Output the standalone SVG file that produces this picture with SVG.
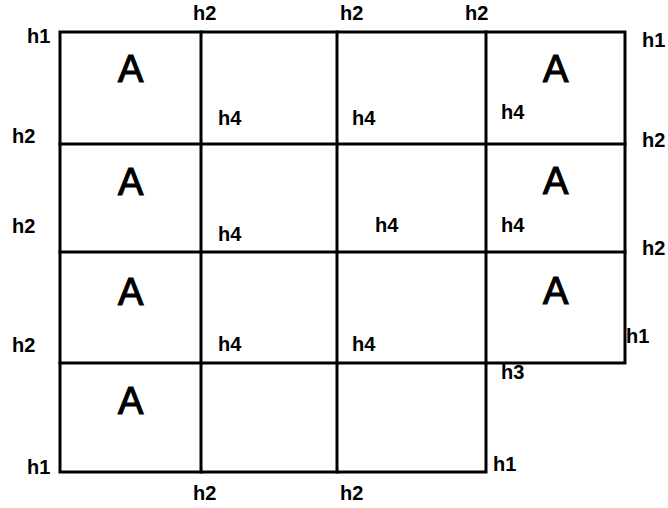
<svg xmlns="http://www.w3.org/2000/svg" width="668" height="508" viewBox="0 0 668 508">
<style>
.g{fill:none;stroke:#000;stroke-width:3;stroke-linecap:square}
.l{font-family:"Liberation Sans",Arial,sans-serif;font-weight:bold;font-size:20px;fill:#000}
.a{font-family:"Liberation Sans",Arial,sans-serif;font-size:38px;fill:#000;stroke:#000;stroke-width:1.2}
</style>
<rect width="668" height="508" fill="#fff"/>
<g id="grid">
<path class="g" d="M60,32H625V363H486V472H60Z"/>
<path class="g" d="M60,144H625M60,252H625M60,363H486M201,32V472M337,32V472M486,32V363"/>
</g>
<g id="cell-labels">
<text class="a" x="118" y="82">A</text>
<text class="a" x="118" y="195">A</text>
<text class="a" x="118" y="305">A</text>
<text class="a" x="118" y="414">A</text>
<text class="a" x="543" y="82">A</text>
<text class="a" x="543" y="194">A</text>
<text class="a" x="543" y="304">A</text>
<text class="l" x="218" y="125">h4</text>
<text class="l" x="352" y="125">h4</text>
<text class="l" x="501" y="119">h4</text>
<text class="l" x="218" y="241">h4</text>
<text class="l" x="375" y="232">h4</text>
<text class="l" x="501" y="232">h4</text>
<text class="l" x="218" y="351">h4</text>
<text class="l" x="352" y="351">h4</text>
</g>
<g id="edge-labels">
<text class="l" x="193" y="20">h2</text>
<text class="l" x="340" y="20">h2</text>
<text class="l" x="465" y="20">h2</text>
<text class="l" x="27" y="43">h1</text>
<text class="l" x="12" y="143">h2</text>
<text class="l" x="12" y="233">h2</text>
<text class="l" x="12" y="352">h2</text>
<text class="l" x="27" y="474">h1</text>
<text class="l" x="193" y="500">h2</text>
<text class="l" x="340" y="500">h2</text>
<text class="l" x="493" y="471">h1</text>
<text class="l" x="501" y="379">h3</text>
<text class="l" x="626" y="343">h1</text>
<text class="l" x="642" y="47">h1</text>
<text class="l" x="642" y="147">h2</text>
<text class="l" x="642" y="255">h2</text>
</g>
</svg>
